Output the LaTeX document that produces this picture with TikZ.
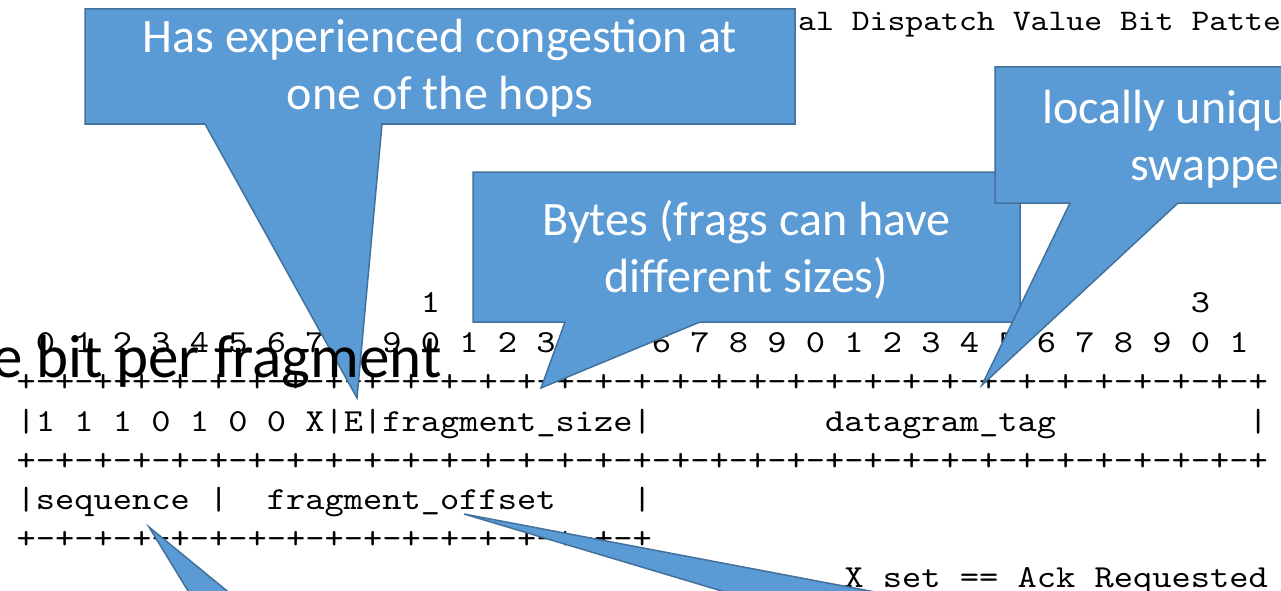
\documentclass[tikz,border=0pt]{standalone}
\usepackage{fontspec}
\setmainfont{Carlito}
% typewriter face, widened so one column is 19.25 units wide
\newfontfamily\rfcmono[Extension=.otf,FakeStretch=1.143]{lmmono10-regular}
\definecolor{calloutfill}{HTML}{5B9BD5}
\definecolor{calloutline}{HTML}{41719C}
% one group of four "+-" cells of the ASCII ruler
\newcommand\rulequad{+-+-+-+-}
% x position of a character column in the ASCII figure
\newcommand\cx{16.5}
\newcommand\cw{19.25}

\begin{document}
\begin{tikzpicture}[x=1pt,y=-1pt,
  rfc/.style={anchor=base west,inner sep=0pt,font=\rfcmono\fontsize{32.08}{39}\selectfont},
  rfctitle/.style={rfc,font=\rfcmono\fontsize{29.8}{39}\selectfont},
  callout/.style={fill=calloutfill,draw=calloutline,line width=1.5pt,line join=miter},
  note/.style={text=white,inner sep=0pt,anchor=base,font=\fontsize{48}{58}\selectfont},
  notel/.style={note,anchor=base west},
]
\useasboundingbox (0,0) rectangle (1281,591);
\clip (0,0) rectangle (1281,591);

% ---- ASCII header layout (RFC style) ----
\node[rfctitle] (title) at (798,31) {al Dispatch Value Bit Pattern};
\node[rfc] (ten1) at ({\cx+21*\cw},312) {1};
\node[rfc] (ten2) at ({\cx+41*\cw},312) {2};
\node[rfc] (ten3) at ({\cx+61*\cw},312) {3};
\node[rfc] (bits) at ({\cx+1*\cw},352) {0 1 2 3 4 5 6 7 8 9 0 1 2 3 4 5 6 7 8 9 0 1 2 3 4 5 6 7 8 9 0 1};
\node[rfc] (ruleA) at (\cx,391) {\rulequad\rulequad\rulequad\rulequad\rulequad\rulequad\rulequad\rulequad+};
\node[rfc] (word1) at (\cx,431) {|1 1 1 0 1 0 0 X|E|fragment\_size|};
\node[rfc] (tag) at ({\cx+42*\cw},431) {datagram\_tag};
\node[rfc] (bar1) at ({\cx+64*\cw},431) {|};
\node[rfc] (ruleB) at (\cx,470) {\rulequad\rulequad\rulequad\rulequad\rulequad\rulequad\rulequad\rulequad+};
\node[rfc] (seq) at (\cx,509) {|sequence |};
\node[rfc] (offset) at ({\cx+13*\cw},509) {fragment\_offset};
\node[rfc] (bar2) at ({\cx+32*\cw},509) {|};
\node[rfc] (ruleC) at (\cx,548) {\rulequad\rulequad\rulequad\rulequad+};
\node[rfc] (ackreq) at ({\cx+43*\cw},587) {X set == Ack Requested};

% ---- callouts ----
\draw[callout] (85,9) -- (795,9) -- (795,124) -- (382,124) -- (357,398)
  -- (205,124) -- (85,124) -- cycle;
\node[note] (congA) at (440,53) {Has experienced congestion at};
\node[note] (congB) at (440,110) {one of the hops};

\draw[callout] (473,172) -- (1020,172) -- (1020,322) -- (700,322) -- (541,388)
  -- (565,322) -- (473,322) -- cycle;
\node[note] (bytesA) at (746.5,235) {Bytes (frags can have};
\node[note] (bytesB) at (746.5,292) {different sizes)};

\draw[callout] (995,67) -- (1300,67) -- (1300,203) -- (1178,203) -- (982,385)
  -- (1070,203) -- (995,203) -- cycle;
\node[notel] (tagA) at (1042,124) {locally unique};
\node[notel] (tagB) at (1130,180) {swapped};

\draw[callout] (149,527) -- (287,640) -- (218,640) -- cycle;
\draw[callout] (464,514) -- (1128,640) -- (886,640) -- cycle;

% ---- slide heading text on top ----
\node[anchor=base west,inner sep=0pt,font=\fontsize{61}{70}\selectfont] (heading) at (-8,377) {e bit per fragment};
\end{tikzpicture}
\end{document}
